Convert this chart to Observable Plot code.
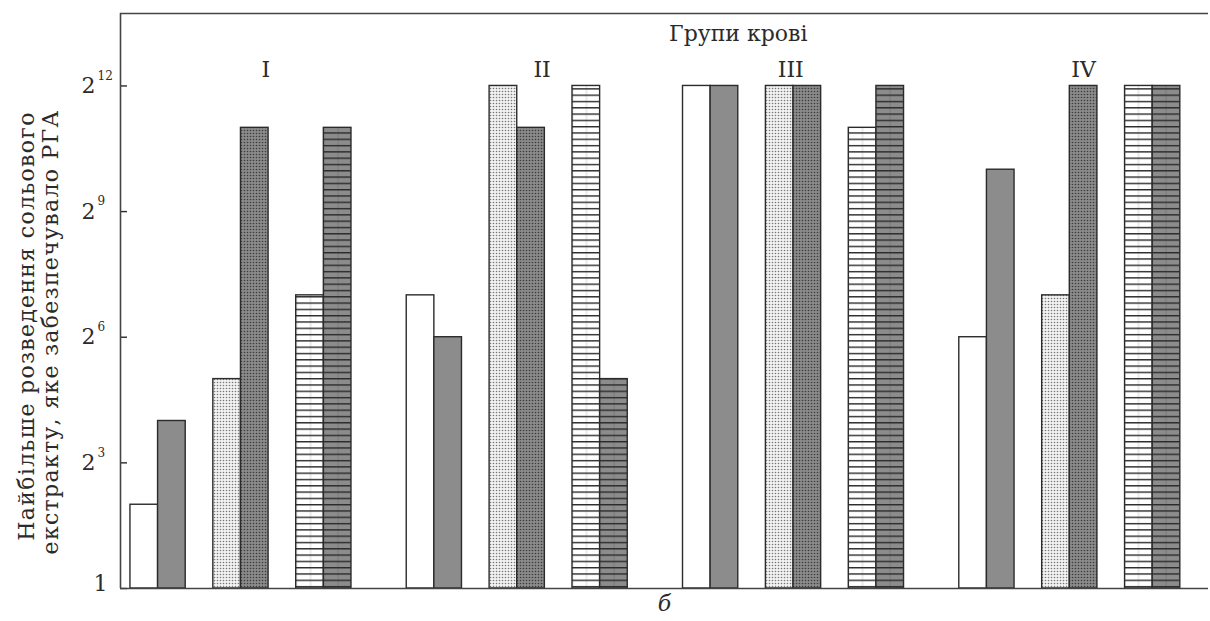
<!DOCTYPE html>
<html><head><meta charset="utf-8">
<script src="https://cdn.jsdelivr.net/npm/d3@7"></script>
<script src="https://cdn.jsdelivr.net/npm/@observablehq/plot@0.6"></script>
<style>body{margin:0;background:#fff}</style>
</head><body><div id="chart"></div>
<script>
// ---- data ----
const groups = ["I", "II", "III", "IV"];
const series = ["white", "grey", "dotLight", "dotDark", "stripeLight", "stripeDark"];
// highest dilution of salt extract providing RHA, per group, per series
const valuesI   = [4,    16,   32,   2048, 128,  2048];
const valuesII  = [128,  64,   4096, 2048, 4096, 32];
const valuesIII = [4096, 4096, 4096, 4096, 2048, 4096];
const valuesIV  = [64,   1024, 128,  4096, 4096, 4096];
const groupValues = [valuesI, valuesII, valuesIII, valuesIV];
const yTicks = [1, 8, 64, 512, 4096];
const title = "Групи крові";
const yLabel1 = "Найбільше розведення сольового";
const yLabel2 = "екстракту, яке забезпечувало РГА";
const xLabel = "б";
const groupLabelSlot = [4.9, 14.9, 23.9, 34.5];

// ---- layout helpers ----
const rows = [];
groups.forEach((g, gi) => series.forEach((s, si) => {
  rows.push({group: g, series: s, value: groupValues[gi][si],
             slot: gi * 10 + Math.floor(si / 2) * 3 + (si % 2)});
}));
const powTicks = yTicks.filter(d => d !== 1);
const expo = d => String(Math.round(Math.log2(d)));

const W = 1210, H = 621, mL = 120, mR = 2, mT = 13, mB = 33;
const xMin = -0.36, xMax = 39.02, yMax = 2 ** 13.73;
const fills = {
  white: "#ffffff", grey: "#8c8c8c",
  dotLight: "url(#dotLight)", dotDark: "url(#dotDark)",
  stripeLight: "url(#stripeLight)", stripeDark: "url(#stripeDark)"
};
const ink = "#2b2b2b";
const font = "'DejaVu Serif', serif";

const svg = Plot.plot({
  width: W, height: H,
  marginLeft: mL, marginRight: mR, marginTop: mT, marginBottom: mB,
  x: {domain: [xMin, xMax], axis: null},
  y: {type: "log", base: 2, domain: [1, yMax], axis: null},
  style: {fontFamily: font, fontSize: "20px", color: ink, background: "#fff", overflow: "visible"},
  marks: [
    ...series.map(s => Plot.rect(rows.filter(r => r.series === s), {
      x1: "slot", x2: d => d.slot + 1, y1: 1, y2: "value",
      fill: fills[s], stroke: ink, strokeWidth: 1.4
    })),
    // tick labels: base "2" with raised exponent, and plain "1"
    Plot.text(powTicks, {y: d => d, text: () => "2", frameAnchor: "left", textAnchor: "end",
      dx: -25, fontSize: 22, fill: ink}),
    Plot.text(powTicks, {y: d => d, text: expo, frameAnchor: "left", textAnchor: "start",
      dx: -23, dy: -10, fontSize: 12, fill: ink}),
    Plot.text([1], {y: d => d, text: () => "1", frameAnchor: "left", textAnchor: "end",
      dx: -13, dy: -5, fontSize: 22, fill: ink}),
    Plot.tickY(yTicks, {y: d => d, insetRight: (W - mL - mR) - 7, stroke: ink, strokeWidth: 1.4}),
    Plot.ruleY([yMax], {stroke: "#444", strokeWidth: 1.6}),
    Plot.ruleY([1], {stroke: "#444", strokeWidth: 1.6}),
    Plot.ruleX([xMin], {stroke: "#444", strokeWidth: 1.6}),
    Plot.text([title], {x: 22, frameAnchor: "top", lineAnchor: "middle", dy: 20, fontSize: 22, fill: ink}),
    Plot.text(groups, {x: (d, i) => groupLabelSlot[i], frameAnchor: "top", lineAnchor: "middle", dy: 56, fontSize: 22, fill: ink}),
    Plot.text([xLabel], {frameAnchor: "bottom", lineAnchor: "middle", dy: 15, fontSize: 22, fontStyle: "italic", fill: ink}),
    Plot.text([yLabel1], {frameAnchor: "left", textAnchor: "middle", lineAnchor: "middle", rotate: -90, dx: -94, dy: 25, fontSize: 22, fill: ink}),
    Plot.text([yLabel2], {frameAnchor: "left", textAnchor: "middle", lineAnchor: "middle", rotate: -90, dx: -70, dy: 31, fontSize: 22, fill: ink})
  ]
});

// wider tracking for the y-axis title, like the reference typeface
d3.select(svg).selectAll("text")
  .filter(function() { return this.textContent === yLabel1 || this.textContent === yLabel2; })
  .style("letter-spacing", "1.3px");

// patterns
const defs = d3.select(svg).insert("defs", ":first-child");
const p1 = defs.append("pattern").attr("id", "dotLight").attr("patternUnits", "userSpaceOnUse").attr("width", 3).attr("height", 3);
p1.append("rect").attr("width", 3).attr("height", 3).attr("fill", "#f2f2f2");
p1.append("circle").attr("cx", 1.5).attr("cy", 1.5).attr("r", 0.8).attr("fill", "#777");
const p2 = defs.append("pattern").attr("id", "dotDark").attr("patternUnits", "userSpaceOnUse").attr("width", 3).attr("height", 3);
p2.append("rect").attr("width", 3).attr("height", 3).attr("fill", "#8a8a8a");
p2.append("circle").attr("cx", 1.5).attr("cy", 1.5).attr("r", 0.8).attr("fill", "#3c3c3c");
const p3 = defs.append("pattern").attr("id", "stripeLight").attr("patternUnits", "userSpaceOnUse").attr("width", 13.8).attr("height", 6.3);
p3.append("rect").attr("width", 13.8).attr("height", 6.3).attr("fill", "#fff");
p3.append("rect").attr("x", 6.4).attr("width", 1).attr("height", 6.3).attr("fill", "#d8d8d8");
p3.append("rect").attr("y", 0).attr("width", 13.8).attr("height", 1.4).attr("fill", "#2a2a2a");
const p4 = defs.append("pattern").attr("id", "stripeDark").attr("patternUnits", "userSpaceOnUse").attr("width", 13.8).attr("height", 6.3);
p4.append("rect").attr("width", 13.8).attr("height", 6.3).attr("fill", "#8c8c8c");
p4.append("rect").attr("x", 6.4).attr("width", 1).attr("height", 6.3).attr("fill", "#7a7a7a");
p4.append("rect").attr("y", 0).attr("width", 13.8).attr("height", 1.4).attr("fill", "#2a2a2a");

document.getElementById("chart").appendChild(svg);
</script>
</body></html>
